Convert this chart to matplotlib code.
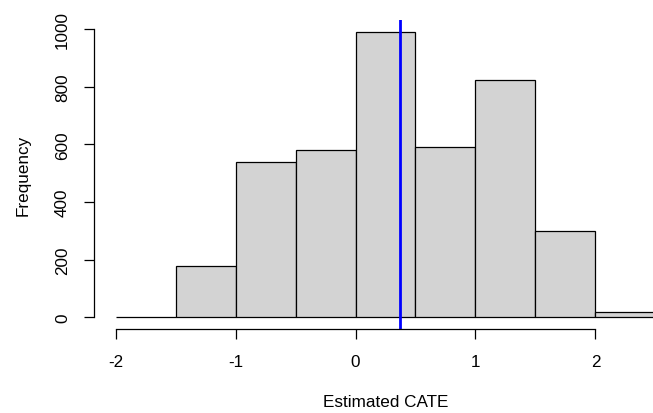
import numpy as np
import matplotlib.pyplot as plt

plt.rcParams['font.family'] = ['Liberation Sans', 'DejaVu Sans']
plt.rcParams['axes.unicode_minus'] = False

# histogram bins and counts
bin_edges = [-2.0, -1.5, -1.0, -0.5, 0.0, 0.5, 1.0, 1.5, 2.0, 2.5]
counts = [0, 177, 537, 579, 991, 591, 822, 299, 19]
mean_cate = 0.37
xticks = [-2, -1, 0, 1, 2]
yticks = [0, 200, 400, 600, 800, 1000]

fig = plt.figure(figsize=(6.53, 4.14), dpi=100)
# plot region runs past the right edge of the figure
ax = fig.add_axes([94 / 653, 1 - 329.7 / 414, 583 / 653, 308.5 / 414])

lefts = np.array(bin_edges[:-1])
widths = np.diff(bin_edges)
ax.bar(lefts, counts, width=widths, align='edge', color='#d3d3d3',
       edgecolor='black', linewidth=0.9)

# R-style 4% padding around the data range
xr = bin_edges[-1] - bin_edges[0]
ax.set_xlim(bin_edges[0] - 0.04 * xr, bin_edges[-1] + 0.04 * xr)
ymax = max(counts)
ax.set_ylim(-0.04 * ymax, 1.04 * ymax)

ax.axvline(mean_cate, color='#0000ff', linewidth=2)

for s in ['top', 'right']:
    ax.spines[s].set_visible(False)
ax.spines['left'].set_bounds(yticks[0], yticks[-1])
ax.spines['bottom'].set_bounds(xticks[0], xticks[-1])
ax.spines['left'].set_linewidth(0.9)
ax.spines['bottom'].set_linewidth(0.9)

ax.set_xticks(xticks)
ax.set_yticks(yticks)
ax.tick_params(direction='out', length=7.2, width=0.9, labelsize=12.3)
ax.tick_params(axis='x', pad=11)
ax.tick_params(axis='y', pad=10, labelrotation=90)
for lab in ax.get_yticklabels():
    lab.set_va('center')

ax.set_xlabel('Estimated CATE', fontsize=12.3)
ax.set_ylabel('Frequency', fontsize=12.3)
ax.xaxis.set_label_coords(0.5, (329.7 - 403) / 308.5)
ax.xaxis.label.set(va='center')
ax.yaxis.set_label_coords((23 - 94) / 583, 0.5)
ax.yaxis.label.set(va='center', ha='center', rotation_mode='default')

fig.savefig('out.png', dpi=100)
